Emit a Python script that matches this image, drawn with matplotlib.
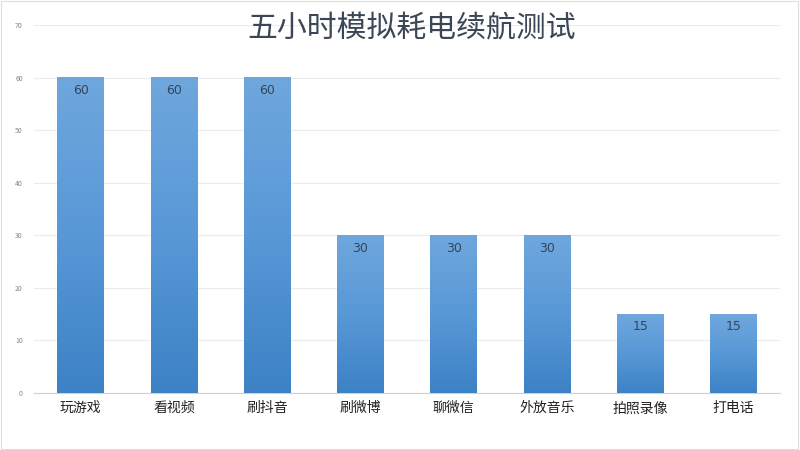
import matplotlib
matplotlib.use("Agg")
import matplotlib.pyplot as plt
import numpy as np
from matplotlib.colors import LinearSegmentedColormap

plt.rcParams['font.family'] = ['Noto Sans CJK SC', 'DejaVu Sans']

categories = ['玩游戏', '看视频', '刷抖音', '刷微博', '聊微信', '外放音乐', '拍照录像', '打电话']
values = [60, 60, 60, 30, 30, 30, 15, 15]
yticks = [0, 10, 20, 30, 40, 50, 60, 70]
title = '五小时模拟耗电续航测试'

fig = plt.figure(figsize=(8, 4.5), dpi=100)
fig.patch.set_facecolor('white')
ax = fig.add_axes([0.0425, 0.1267, 0.9325, 0.8173])

x = np.arange(len(categories))
bars = ax.bar(x, values, width=0.5, color='none', edgecolor='none', zorder=3)

cmap = LinearSegmentedColormap.from_list('g', ['#3c82c5', '#5898d7', '#6fa7dd'])
grad = np.linspace(0, 1, 256).reshape(-1, 1)
for b in bars:
    x0, y0 = b.get_x(), b.get_y()
    w, h = b.get_width(), b.get_height()
    ax.imshow(grad, extent=[x0, x0 + w, y0, y0 + h], origin='lower',
              aspect='auto', cmap=cmap, zorder=3)
    ax.text(x0 + w / 2, y0 + h - 1.2, f'{int(h)}', ha='center', va='top',
            fontsize=9, color='#34455c', zorder=4, family='DejaVu Sans')

ax.set_xlim(-0.5, len(categories) - 0.5)
ax.set_ylim(0, 70)
ax.set_yticks(yticks)
ax.set_yticklabels([str(t) for t in yticks], fontsize=5, color='#888888')
ax.set_xticks(x)
ax.set_xticklabels(categories, fontsize=10, color='#222222')
ax.tick_params(axis='x', length=0, pad=6)
ax.tick_params(axis='y', length=0, pad=8)
ax.grid(axis='y', color='#ececec', linewidth=0.8, zorder=0)
for s in ['top', 'right', 'left']:
    ax.spines[s].set_visible(False)
ax.spines['bottom'].set_color('#d0d0d0')
ax.spines['bottom'].set_linewidth(0.8)

fig.text(0.514, 0.937, title, ha='center', va='center', fontsize=21.5, color='#3b4656')

border = plt.Rectangle((0.001, 0.002), 0.997, 0.995, transform=fig.transFigure,
                       fill=False, edgecolor='#dddddd', linewidth=0.8)
fig.patches.append(border)

fig.savefig('out.png', dpi=100)
